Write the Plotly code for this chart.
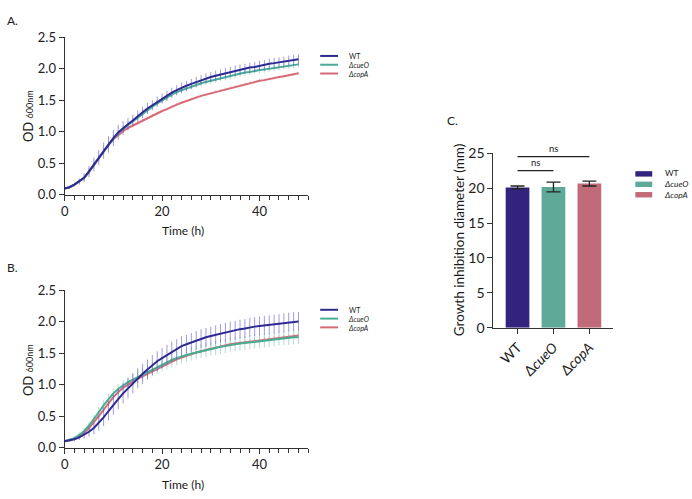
import plotly.graph_objects as go

# ---------------- data ----------------
time_h = list(range(0, 49))

# Panel A: OD600 growth curves
a_wt = [0.10, 0.12, 0.16, 0.21, 0.27, 0.37, 0.48, 0.59, 0.70, 0.80, 0.90, 0.99, 1.06, 1.12, 1.18, 1.25, 1.31,
        1.37, 1.42, 1.48, 1.53, 1.57, 1.62, 1.66, 1.70, 1.73, 1.76, 1.79, 1.82, 1.85, 1.87, 1.89, 1.91, 1.93,
        1.95, 1.97, 1.99, 2.00, 2.02, 2.03, 2.05, 2.06, 2.08, 2.09, 2.10, 2.11, 2.13, 2.14, 2.15]
a_cueo = [0.10, 0.12, 0.16, 0.21, 0.27, 0.37, 0.48, 0.59, 0.70, 0.80, 0.89, 0.98, 1.05, 1.11, 1.17, 1.23, 1.29,
          1.35, 1.40, 1.45, 1.50, 1.55, 1.59, 1.63, 1.66, 1.69, 1.72, 1.75, 1.77, 1.79, 1.81, 1.83, 1.85, 1.87,
          1.88, 1.90, 1.92, 1.94, 1.95, 1.97, 1.98, 1.99, 2.00, 2.02, 2.03, 2.04, 2.05, 2.06, 2.07]
a_copa = [0.10, 0.12, 0.16, 0.21, 0.27, 0.36, 0.47, 0.58, 0.69, 0.79, 0.88, 0.95, 1.01, 1.06, 1.10, 1.14, 1.18,
          1.22, 1.26, 1.30, 1.33, 1.36, 1.40, 1.43, 1.46, 1.49, 1.52, 1.54, 1.57, 1.59, 1.61, 1.64, 1.66, 1.68,
          1.70, 1.72, 1.74, 1.76, 1.78, 1.79, 1.81, 1.82, 1.84, 1.85, 1.87, 1.88, 1.90, 1.91, 1.93]
a_wt_sd = [0.01, 0.02, 0.03, 0.05, 0.07, 0.09, 0.11, 0.12, 0.13, 0.13, 0.13, 0.12, 0.11, 0.10, 0.09, 0.09, 0.09,
           0.09, 0.08, 0.08, 0.08, 0.08, 0.08, 0.08, 0.08, 0.08, 0.08, 0.08, 0.08, 0.08, 0.08, 0.08, 0.08, 0.08,
           0.08, 0.08, 0.08, 0.08, 0.08, 0.08, 0.08, 0.08, 0.08, 0.08, 0.08, 0.08, 0.08, 0.08, 0.08]
a_cueo_sd = [0.01, 0.01, 0.02, 0.03, 0.04, 0.05, 0.06, 0.06, 0.06, 0.06, 0.06, 0.05, 0.05, 0.05, 0.05, 0.05, 0.05,
             0.05, 0.05, 0.05, 0.05, 0.05, 0.05, 0.05, 0.05, 0.05, 0.05, 0.05, 0.05, 0.05, 0.05, 0.05, 0.05, 0.05,
             0.05, 0.05, 0.05, 0.05, 0.05, 0.05, 0.05, 0.05, 0.05, 0.05, 0.05, 0.05, 0.05, 0.05, 0.05]
a_copa_sd = [0.01, 0.01, 0.01, 0.02, 0.02, 0.03, 0.03, 0.03, 0.03, 0.03, 0.03, 0.02, 0.02, 0.02, 0.02, 0.02, 0.02,
             0.02, 0.02, 0.02, 0.02, 0.02, 0.02, 0.02, 0.02, 0.02, 0.02, 0.02, 0.02, 0.02, 0.02, 0.02, 0.02, 0.02,
             0.02, 0.02, 0.02, 0.02, 0.02, 0.02, 0.02, 0.02, 0.02, 0.02, 0.02, 0.02, 0.02, 0.02, 0.02]

# Panel B: OD600 growth curves
b_wt = [0.10, 0.11, 0.13, 0.16, 0.20, 0.25, 0.31, 0.39, 0.48, 0.58, 0.68, 0.77, 0.86, 0.94, 1.02, 1.10, 1.17,
        1.24, 1.31, 1.37, 1.42, 1.47, 1.52, 1.56, 1.61, 1.64, 1.67, 1.70, 1.73, 1.75, 1.77, 1.79, 1.81, 1.83,
        1.85, 1.86, 1.88, 1.89, 1.91, 1.92, 1.93, 1.94, 1.95, 1.96, 1.97, 1.98, 1.99, 2.00, 2.00]
b_cueo = [0.10, 0.12, 0.15, 0.20, 0.26, 0.35, 0.45, 0.56, 0.67, 0.77, 0.86, 0.93, 0.99, 1.04, 1.08, 1.12, 1.16,
          1.20, 1.24, 1.28, 1.32, 1.35, 1.39, 1.42, 1.45, 1.47, 1.49, 1.51, 1.53, 1.55, 1.57, 1.58, 1.60, 1.61,
          1.63, 1.64, 1.65, 1.66, 1.67, 1.68, 1.69, 1.70, 1.71, 1.72, 1.73, 1.74, 1.74, 1.75, 1.75]
b_copa = [0.10, 0.12, 0.14, 0.18, 0.23, 0.31, 0.40, 0.50, 0.60, 0.70, 0.80, 0.88, 0.95, 1.00, 1.05, 1.09, 1.13,
          1.17, 1.21, 1.25, 1.29, 1.33, 1.37, 1.40, 1.43, 1.46, 1.49, 1.51, 1.53, 1.55, 1.57, 1.59, 1.61, 1.62,
          1.64, 1.65, 1.66, 1.68, 1.69, 1.70, 1.71, 1.72, 1.73, 1.74, 1.75, 1.76, 1.76, 1.77, 1.78]
b_wt_sd = [0.01, 0.02, 0.03, 0.04, 0.06, 0.08, 0.10, 0.12, 0.14, 0.15, 0.16, 0.16, 0.16, 0.16, 0.16, 0.16, 0.16,
           0.16, 0.16, 0.16, 0.16, 0.16, 0.16, 0.16, 0.16, 0.15, 0.15, 0.15, 0.15, 0.15, 0.15, 0.15, 0.15, 0.15,
           0.15, 0.15, 0.15, 0.15, 0.15, 0.15, 0.15, 0.15, 0.15, 0.15, 0.15, 0.15, 0.15, 0.15, 0.15]
b_cueo_sd = [0.01, 0.02, 0.03, 0.04, 0.05, 0.06, 0.07, 0.08, 0.08, 0.08, 0.08, 0.08, 0.08, 0.08, 0.09, 0.10, 0.10,
             0.11, 0.11, 0.11, 0.11, 0.11, 0.11, 0.11, 0.11, 0.11, 0.11, 0.11, 0.11, 0.11, 0.11, 0.11, 0.11, 0.11,
             0.11, 0.11, 0.11, 0.11, 0.11, 0.11, 0.11, 0.11, 0.11, 0.11, 0.11, 0.11, 0.11, 0.11, 0.11]
b_copa_sd = [0.01, 0.01, 0.02, 0.02, 0.03, 0.03, 0.04, 0.04, 0.04, 0.04, 0.04, 0.03, 0.03, 0.03, 0.03, 0.03, 0.03,
             0.03, 0.03, 0.03, 0.03, 0.03, 0.03, 0.03, 0.03, 0.03, 0.03, 0.03, 0.03, 0.03, 0.03, 0.03, 0.03, 0.03,
             0.03, 0.03, 0.03, 0.03, 0.03, 0.03, 0.03, 0.03, 0.03, 0.03, 0.03, 0.03, 0.03, 0.03, 0.03]

# Panel C: growth inhibition diameter (mm)
strains = ["WT", "ΔcueO", "ΔcopA"]
strain_ticktext = ["WT", "Δ<i>cueO</i>", "Δ<i>copA</i>"]
legend_text = ["WT", "<i>ΔcueO</i>", "<i>ΔcopA</i>"]
diameter = [20.1, 20.15, 20.65]
diameter_sd = [0.2, 0.7, 0.35]
sig_pairs = [(0, 2, 24.5, "ns"), (0, 1, 22.5, "ns")]

# ---------------- style ----------------
W, H = 692, 499
FONT = "Lato"
AX = "#333333"
line_cols = ["#2E2A92", "#48AC93", "#D86A77"]
err_cols = ["rgba(95,88,200,0.6)", "rgba(100,190,165,0.5)", "rgba(225,120,130,0.5)"]
bar_cols = ["#33237F", "#5FA999", "#C06B77"]


def px(x):
    return x / W


def py(y):
    return 1 - y / H


fig = go.Figure()

panelA = [a_wt, a_cueo, a_copa]
panelA_sd = [a_wt_sd, a_cueo_sd, a_copa_sd]
panelB = [b_wt, b_cueo, b_copa]
panelB_sd = [b_wt_sd, b_cueo_sd, b_copa_sd]

for xa, ya, series, sds in [("x", "y", panelA, panelA_sd), ("x2", "y2", panelB, panelB_sd)]:
    for i in [2, 1, 0]:
        fig.add_trace(go.Scatter(
            x=time_h, y=series[i], xaxis=xa, yaxis=ya, mode="lines",
            line=dict(color=line_cols[i], width=2),
            error_y=dict(type="data", array=sds[i], visible=True, color=err_cols[i],
                         thickness=1, width=0),
            showlegend=False, hoverinfo="skip"))

fig.add_trace(go.Bar(
    x=strains, y=diameter, xaxis="x3", yaxis="y3", width=0.66,
    marker=dict(color=bar_cols, line=dict(width=0)),
    error_y=dict(type="data", array=diameter_sd, visible=True, color="#222222",
                 thickness=1.3, width=7),
    showlegend=False, hoverinfo="skip"))

axis_common = dict(showline=True, linecolor=AX, linewidth=1.2, ticks="outside", ticklen=5,
                   tickwidth=1.2, tickcolor=AX, showgrid=False, zeroline=False,
                   tickfont=dict(family=FONT, size=13, color="#222222"))

xa_ts = dict(axis_common, range=[0, 50], tickvals=[0, 20, 40],
             minor=dict(dtick=2, tick0=0, ticklen=4, tickwidth=1, tickcolor=AX, ticks="outside",
                        showgrid=False))
ya_ts = dict(axis_common, range=[0, 2.5], tickvals=[0, 0.5, 1.0, 1.5, 2.0, 2.5], tickformat=".1f")

layout = dict(
    width=W, height=H, margin=dict(l=0, r=0, t=0, b=0),
    paper_bgcolor="white", plot_bgcolor="white",
    xaxis=dict(xa_ts, domain=[px(61), px(306)], anchor="y"),
    yaxis=dict(ya_ts, domain=[py(192.3), py(29.3)], anchor="x"),
    xaxis2=dict(xa_ts, domain=[px(61), px(306)], anchor="y2"),
    yaxis2=dict(ya_ts, domain=[py(454), py(291)], anchor="x2"),
    xaxis3=dict(axis_common, domain=[px(492.3), px(613)], anchor="y3", type="category",
                range=[-0.67, 2.67], tickvals=strains, ticktext=strain_ticktext, tickangle=-45,
                tickfont=dict(family=FONT, size=14, color="#222222")),
    yaxis3=dict(axis_common, domain=[py(330), py(149.3)], anchor="x3", range=[0, 25],
                tickvals=[0, 5, 10, 15, 20, 25], tickfont=dict(family=FONT, size=14, color="#222222")),
    showlegend=False,
)
fig.update_layout(**layout)

ann = []
shapes = []


def text(x, y, s, size, **kw):
    d = dict(x=px(x), y=py(y), xref="paper", yref="paper", text=s, showarrow=False,
             xanchor="center", yanchor="middle",
             font=dict(family=FONT, size=size, color="#1a1a1a"))
    d.update(kw)
    ann.append(d)


# panel labels
text(1, 12, "A.", 12, xanchor="left")
text(1, 268, "B.", 12, xanchor="left")
text(444, 115, "C.", 12, xanchor="left")

# axis titles
text(180, 229, "Time (h)", 12)
text(180, 492, "Time (h)", 12)
text(24, 111, "OD <span style='font-size:9px'>600nm</span>", 13, textangle=-90)
text(24, 374, "OD <span style='font-size:9px'>600nm</span>", 13, textangle=-90)
text(458, 239, "Growth inhibition diameter (mm)", 13.5, textangle=-90)

# line legends for A and B (one multi-line text block each)
LEG_FS = 7
LEG_STEP = LEG_FS * 1.3
for yc in (57.7, 320.5):
    for i in range(len(legend_text)):
        yy = yc + (i - 1) * LEG_STEP
        shapes.append(dict(type="line", xref="paper", yref="paper", x0=px(318), x1=px(336),
                           y0=py(yy), y1=py(yy), line=dict(color=line_cols[i], width=2)))
    text(345, yc, "<br>".join(legend_text), LEG_FS, xanchor="left", align="left", borderpad=0)

# bar legend for C
for i, lab in enumerate(legend_text):
    yy = 170.7 + i * 10.8
    shapes.append(dict(type="rect", xref="paper", yref="paper", x0=px(635), x1=px(652),
                       y0=py(yy + 2.8), y1=py(yy - 2.8), line=dict(width=0), fillcolor=bar_cols[i]))
text(663, 181.5, "<br>".join(legend_text), 8.3, xanchor="left", align="left", borderpad=0)

# significance brackets
for a, b, lvl, lab in sig_pairs:
    shapes.append(dict(type="line", xref="x3", yref="y3", x0=a, x1=b, y0=lvl, y1=lvl,
                       line=dict(color="#222222", width=1.2)))
    ann.append(dict(x=(a + b) / 2, y=lvl, xref="x3", yref="y3", text=lab, showarrow=False,
                    xanchor="center", yanchor="bottom", yshift=1,
                    font=dict(family=FONT, size=9.5, color="#1a1a1a")))

fig.update_layout(annotations=ann, shapes=shapes)
fig.write_html("out.html")
